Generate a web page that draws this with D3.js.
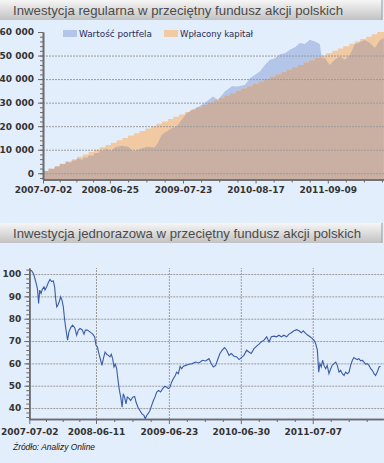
<!DOCTYPE html>
<html>
<head>
<meta charset="utf-8">
<script src="https://cdn.jsdelivr.net/npm/d3@7"></script>
<style>
body { margin: 0; background: #e3eefc; }
svg { display: block; }
</style>
</head>
<body>
<div class="canvas"></div>
<script>
var title1 = "Inwestycja regularna w przeciętny fundusz akcji polskich";
var title2 = "Inwestycja jednorazowa w przeciętny fundusz akcji polskich";
var sourceText = "Źródło: Analizy Online";
var legendLabels = ["Wartość portfela", "Wpłacony kapitał"];

var topTicks = ["2007-07-02", "2008-06-25", "2009-07-23", "2010-08-17", "2011-09-09"];
var bottomTicks = ["2007-07-02", "2008-06-11", "2009-06-23", "2010-06-30", "2011-07-07"];

// wplacony kapital - monthly deposits, cumulative
var paidMonths = [
  "2007-07-02","2007-08-01","2007-09-03","2007-10-01","2007-11-01","2007-12-03",
  "2008-01-02","2008-02-01","2008-03-03","2008-04-01","2008-05-02","2008-06-02",
  "2008-07-01","2008-08-01","2008-09-01","2008-10-01","2008-11-03","2008-12-01",
  "2009-01-02","2009-02-02","2009-03-02","2009-04-01","2009-05-04","2009-06-01",
  "2009-07-01","2009-08-03","2009-09-01","2009-10-01","2009-11-02","2009-12-01",
  "2010-01-04","2010-02-01","2010-03-01","2010-04-01","2010-05-04","2010-06-01",
  "2010-07-01","2010-08-02","2010-09-01","2010-10-01","2010-11-02","2010-12-01",
  "2011-01-03","2011-02-01","2011-03-01","2011-04-01","2011-05-02","2011-06-01",
  "2011-07-01","2011-08-01","2011-09-01","2011-10-03","2011-11-02","2011-12-01",
  "2012-01-02","2012-02-01","2012-03-01","2012-04-02","2012-05-02","2012-06-01"
];
var paidValues = [
  1000, 2000, 3000, 4000, 5000, 6000,
  7000, 8000, 9000, 10000, 11000, 12000,
  13000, 14000, 15000, 16000, 17000, 18000,
  19000, 20000, 21000, 22000, 23000, 24000,
  25000, 26000, 27000, 28000, 29000, 30000,
  31000, 32000, 33000, 34000, 35000, 36000,
  37000, 38000, 39000, 40000, 41000, 42000,
  43000, 44000, 45000, 46000, 47000, 48000,
  49000, 50000, 51000, 52000, 53000, 54000,
  55000, 56000, 57000, 58000, 59000, 60000
];

// wartosc portfela
var valueDates = [
  "2007-07-02","2007-07-31","2007-08-01","2007-08-31","2007-09-03","2007-09-28",
  "2007-10-01","2007-10-31","2007-11-01","2007-11-30","2007-12-03","2007-12-28",
  "2008-01-02","2008-01-31","2008-02-01","2008-02-29","2008-03-03","2008-03-31",
  "2008-04-01","2008-04-30","2008-05-02","2008-05-30","2008-06-02","2008-06-30",
  "2008-07-23","2008-08-28","2008-10-02","2008-10-29","2008-12-04","2009-01-09",
  "2009-02-22","2009-03-12","2009-03-30","2009-04-26","2009-05-23","2009-06-19",
  "2009-07-16","2009-08-12","2009-09-08","2009-10-11","2009-11-18","2009-12-31",
  "2010-01-27","2010-03-05","2010-04-12","2010-05-14","2010-06-21","2010-07-18",
  "2010-08-14","2010-09-09","2010-10-06","2010-11-02","2010-11-29","2010-12-26",
  "2011-01-22","2011-02-17","2011-03-16","2011-04-12","2011-05-09","2011-06-05",
  "2011-07-02","2011-07-28","2011-08-08","2011-08-24","2011-09-20","2011-10-17",
  "2011-11-13","2011-12-10","2012-01-06","2012-02-01","2012-02-28","2012-03-26",
  "2012-04-22","2012-05-19","2012-06-15","2012-07-06"
];
var valueValues = [
  1000, 970, 1960, 1850, 2850, 2900,
  3900, 3950, 4950, 4500, 5450, 5500,
  6500, 5600, 6600, 6700, 7700, 7400,
  8400, 8700, 9700, 9500, 10500, 9300,
  11000, 11700, 11300, 9200, 10300, 11300,
  11000, 13200, 16300, 17700, 19100, 19800,
  22700, 25500, 26900, 28000, 30000, 32600,
  31200, 34700, 37000, 36800, 37600, 40400,
  41800, 43200, 46000, 48200, 48900, 50600,
  51000, 52500, 53500, 55300, 54900, 56700,
  56000, 54900, 49000, 49000, 46000, 48200,
  49600, 48200, 50300, 54800, 55600, 56600,
  55300, 53200, 56500, 57400
];

// inwestycja jednorazowa - index
var indexDates = [
  "2007-07-02","2007-07-14","2007-07-23","2007-07-31","2007-08-09","2007-08-14","2007-08-19","2007-08-25",
  "2007-09-01","2007-09-07","2007-09-16","2007-09-21","2007-09-30","2007-10-08","2007-10-17","2007-10-26",
  "2007-11-03","2007-11-10","2007-11-15","2007-11-21","2007-11-27","2007-12-04","2007-12-11","2007-12-18",
  "2007-12-25","2008-01-01","2008-01-08","2008-01-16","2008-01-23","2008-02-01","2008-02-11","2008-02-22",
  "2008-03-03","2008-03-12","2008-03-20","2008-03-31","2008-04-10","2008-04-17","2008-04-27","2008-05-11",
  "2008-05-25","2008-06-04","2008-06-11","2008-06-18","2008-06-26","2008-07-05","2008-07-12","2008-07-19",
  "2008-07-28","2008-08-05","2008-08-14","2008-08-22","2008-08-29","2008-09-05","2008-09-12","2008-09-19",
  "2008-09-26","2008-10-03","2008-10-10","2008-10-17","2008-10-24","2008-10-30","2008-11-06","2008-11-13",
  "2008-11-20","2008-11-30","2008-12-07","2008-12-18","2008-12-28","2009-01-04","2009-01-14","2009-01-24",
  "2009-02-04","2009-02-14","2009-02-21","2009-02-28","2009-03-09","2009-03-17","2009-03-26","2009-04-04",
  "2009-04-12","2009-04-21","2009-05-01","2009-05-11","2009-05-22","2009-06-01","2009-06-11","2009-06-20",
  "2009-06-29","2009-07-07","2009-07-16","2009-07-26","2009-08-02","2009-08-11","2009-08-20","2009-08-28",
  "2009-09-06","2009-09-18","2009-10-05","2009-10-22","2009-11-08","2009-11-26","2009-12-13","2009-12-30",
  "2010-01-16","2010-01-28","2010-02-08","2010-02-20","2010-03-01","2010-03-14","2010-03-26","2010-04-07",
  "2010-04-18","2010-04-30","2010-05-12","2010-05-26","2010-06-09","2010-06-21","2010-07-03","2010-07-16",
  "2010-07-30","2010-08-11","2010-08-23","2010-09-06","2010-09-20","2010-10-02","2010-10-14","2010-10-28",
  "2010-11-11","2010-11-23","2010-12-05","2010-12-19","2011-01-01","2011-01-13","2011-01-26","2011-02-08",
  "2011-02-22","2011-03-06","2011-03-18","2011-04-01","2011-04-15","2011-04-27","2011-05-09","2011-05-19",
  "2011-05-31","2011-06-12","2011-06-23","2011-07-05","2011-07-13","2011-07-22","2011-07-31","2011-08-07",
  "2011-08-13","2011-08-20","2011-08-27","2011-09-03","2011-09-12","2011-09-20","2011-09-29","2011-10-08",
  "2011-10-16","2011-10-25","2011-11-03","2011-11-11","2011-11-20","2011-11-28","2011-12-07","2011-12-16",
  "2011-12-24","2012-01-02","2012-01-11","2012-01-19","2012-01-28","2012-02-05","2012-02-14","2012-02-23",
  "2012-03-02","2012-03-11","2012-03-19","2012-03-28","2012-04-06","2012-04-14","2012-04-23","2012-05-02",
  "2012-05-10","2012-05-19","2012-05-27","2012-06-05","2012-06-14","2012-06-22"
];
var indexValues = [
  101.8, 101.5, 100.3, 98.0, 95.0, 92.8, 86.8, 92.8,
  91.3, 93.1, 94.3, 92.8, 94.3, 96.1, 97.6, 96.6,
  97.0, 94.3, 89.1, 85.3, 86.1, 87.6, 89.8, 88.3,
  85.3, 79.3, 74.9, 70.4, 74.1, 76.0, 77.1, 76.0,
  72.6, 74.9, 75.6, 75.1, 73.1, 74.9, 74.9, 74.1,
  73.1, 71.9, 68.1, 67.4, 64.4, 61.4, 59.1, 62.1,
  65.1, 64.1, 63.6, 62.9, 64.1, 62.1, 58.4, 59.6,
  57.6, 52.4, 47.9, 44.9, 40.4, 46.4, 44.9, 41.9,
  44.9, 44.2, 43.4, 44.9, 45.2, 42.7, 40.4, 38.9,
  37.4, 36.7, 35.2, 36.7, 37.7, 38.9, 41.2, 43.4,
  44.9, 47.2, 47.9, 47.2, 48.7, 49.7, 49.4, 48.7,
  49.4, 51.6, 53.1, 54.6, 56.1, 55.4, 58.7, 57.6,
  58.7, 59.1, 59.6, 59.9, 60.6, 60.2, 61.4, 61.1,
  62.1, 59.9, 58.4, 59.1, 61.4, 64.4, 65.9, 67.1,
  65.9, 63.6, 64.4, 63.2, 62.9, 61.7, 62.6, 63.6,
  65.9, 65.1, 64.4, 66.6, 67.7, 68.6, 69.6, 70.4,
  71.9, 69.6, 71.9, 72.2, 71.9, 72.6, 71.9, 72.6,
  71.9, 73.1, 73.7, 74.6, 75.1, 74.6, 73.7, 74.6,
  73.4, 72.6, 71.9, 71.1, 70.4, 68.9, 65.9, 56.1,
  59.9, 58.4, 61.4, 59.1, 57.6, 59.1, 55.4, 57.6,
  59.1, 59.9, 60.6, 59.1, 56.1, 56.9, 55.4, 54.6,
  56.1, 55.4, 56.1, 59.1, 61.4, 62.6, 62.1, 61.7,
  62.1, 61.1, 61.4, 60.6, 59.6, 59.9, 59.1, 57.6,
  56.9, 55.4, 54.6, 56.1, 58.4, 58.7
];

var W = 384, H = 463;
var parseDay = d3.timeParse("%Y-%m-%d");
var fmtDay = d3.timeFormat("%Y-%m-%d");
var plLocale = d3.formatLocale({decimal: ",", thousands: " ", grouping: [3], currency: ["", " zł"]});
var fmtMoney = plLocale.format(",d");

var svg = d3.select(".canvas").append("svg")
    .attr("width", W)
    .attr("height", H);
svg.append("rect").attr("width", W).attr("height", H).attr("fill", "#e3eefc");

var defs = svg.append("defs");
var grad = defs.append("linearGradient").attr("id", "hdr")
    .attr("x1", 0).attr("y1", 0).attr("x2", 0).attr("y2", 1);
grad.append("stop").attr("offset", "0%").attr("stop-color", "#f6f6f6");
grad.append("stop").attr("offset", "100%").attr("stop-color", "#c2c2c2");

function header(y, text, len) {
    svg.append("rect")
       .attr("x", 0).attr("y", y)
       .attr("width", 382).attr("height", 20)
       .attr("fill", "url(#hdr)");
    svg.append("line")
       .attr("x1", 382).attr("x2", 382).attr("y1", y).attr("y2", y + 20)
       .attr("stroke", "#9a9a9a");
    svg.append("text")
       .attr("x", 13).attr("y", y + 15)
       .attr("textLength", len)
       .attr("lengthAdjust", "spacingAndGlyphs")
       .style("font-family", "Liberation Sans, Arial, sans-serif")
       .style("font-size", "13.5px")
       .style("fill", "#4b4b4b")
       .text(text);
}

function styleAxis(g) {
    g.selectAll("text")
     .style("font-family", "DejaVu Sans, Verdana, sans-serif")
     .style("font-size", "9px")
     .style("font-weight", "bold")
     .style("fill", "#333");
    g.selectAll("line").attr("stroke", "#6b6b6b");
    g.select(".domain").attr("stroke", "#6b6b6b").attr("stroke-width", 1.6);
}

function minorDates(ticks, end) {
    var out = [];
    for (var i = 0; i < ticks.length; i++) {
        var a = ticks[i], b = ticks[i + 1];
        var step = b ? (b - a) / 4 : (ticks[i] - ticks[i - 1]) / 4;
        for (var k = 1; k < 4 || !b; k++) {
            var t = new Date(+a + step * k);
            if (!b && t > end) break;
            out.push(t);
        }
    }
    return out;
}

function gridLines(g, axis) {
    g.call(axis);
    g.select(".domain").remove();
    g.selectAll("line")
     .attr("stroke", "#9b9b9b")
     .attr("stroke-dasharray", "2,1");
}

// ---------- top chart ----------
header(0, title1, 330);

var topStart = parseDay("2007-07-02"), topEnd = parseDay("2012-07-07");
var xTop = d3.scaleTime().domain([topStart, topEnd]).range([43, 384]);
var yTop = d3.scaleLinear().domain([-2650, 60000]).range([179.5, 32]);
var topBase = yTop.range()[0];

var paid = paidMonths.map(function (d, i) { return {date: parseDay(d), v: paidValues[i]}; });
paid.push({date: topEnd, v: paidValues[paidValues.length - 1]});
var value = valueDates.map(function (d, i) { return {date: parseDay(d), v: valueValues[i]}; });

defs.append("clipPath").attr("id", "topPlot")
    .append("rect").attr("x", 43).attr("y", 0).attr("width", 341).attr("height", topBase);

var paidArea = d3.area()
    .curve(d3.curveStepAfter)
    .x(function (d) { return xTop(d.date); })
    .y0(topBase)
    .y1(function (d) { return yTop(d.v); });
var valueArea = d3.area()
    .x(function (d) { return xTop(d.date); })
    .y0(topBase)
    .y1(function (d) { return yTop(d.v); });

defs.append("clipPath").attr("id", "paidClip")
    .append("path").attr("d", paidArea(paid));

var plot = svg.append("g").attr("clip-path", "url(#topPlot)");
plot.append("path").attr("d", valueArea(value)).attr("fill", "#b3c5e8");
plot.append("path").attr("d", paidArea(paid)).attr("fill", "#f1c9a3");
plot.append("g").attr("clip-path", "url(#paidClip)")
    .append("path").attr("d", valueArea(value)).attr("fill", "#c9b0a3");

gridLines(svg.append("g").attr("transform", "translate(43,0)"),
    d3.axisLeft(yTop).tickValues(d3.range(0, 50001, 10000)).tickSize(-341).tickFormat(""));

var yMinor = svg.append("g").attr("transform", "translate(43,0)")
    .call(d3.axisLeft(yTop).tickValues(d3.range(-2000, 60001, 2000)).tickSize(3).tickFormat("").tickSizeOuter(0));
styleAxis(yMinor);
var yAxisTop = svg.append("g").attr("transform", "translate(43,0)")
    .call(d3.axisLeft(yTop).tickValues(d3.range(0, 60001, 10000)).tickSize(5).tickPadding(4)
          .tickFormat(fmtMoney).tickSizeOuter(0));
styleAxis(yAxisTop);

var topTickDates = topTicks.map(parseDay);
var xMinorTop = svg.append("g").attr("transform", "translate(0," + topBase + ")")
    .call(d3.axisBottom(xTop).tickValues(minorDates(topTickDates, topEnd)).tickSize(3).tickFormat("").tickSizeOuter(0));
styleAxis(xMinorTop);
var xAxisTop = svg.append("g").attr("transform", "translate(0," + topBase + ")")
    .call(d3.axisBottom(xTop).tickValues(topTickDates).tickSize(4).tickPadding(3)
          .tickFormat(fmtDay).tickSizeOuter(0));
styleAxis(xAxisTop);

// legend
var legendColors = ["#b3c5e8", "#f1c9a3"];
var legendX = [63, 164];
legendLabels.forEach(function (label, i) {
    svg.append("rect")
       .attr("x", legendX[i]).attr("y", 30)
       .attr("width", 14).attr("height", 7)
       .attr("fill", legendColors[i]);
    svg.append("text")
       .attr("x", legendX[i] + 16).attr("y", 37)
       .attr("textLength", 73)
       .attr("lengthAdjust", "spacingAndGlyphs")
       .style("font-family", "DejaVu Sans, Verdana, sans-serif")
       .style("font-size", "9px")
       .style("fill", "#1f2a55")
       .text(label);
});

// ---------- bottom chart ----------
header(223, title2, 348);

var botStart = parseDay("2007-07-02"), botEnd = parseDay("2012-07-06");
var xBot = d3.scaleTime().domain([botStart, botEnd]).range([29.3, 383.3]);
var yBot = d3.scaleLinear().domain([35.1, 102.7]).range([419, 268]);

var botTickDates = bottomTicks.map(parseDay);
gridLines(svg.append("g").attr("transform", "translate(29.3,0)"),
    d3.axisLeft(yBot).tickValues(d3.range(40, 101, 10)).tickSize(-355).tickFormat(""));
gridLines(svg.append("g").attr("transform", "translate(0,419)"),
    d3.axisBottom(xBot).tickValues(botTickDates.slice(1)).tickSize(-151).tickFormat(""));

var index = indexDates.map(function (d, i) { return {date: parseDay(d), v: indexValues[i]}; });
svg.append("path")
   .attr("d", d3.line()
       .x(function (d) { return xBot(d.date); })
       .y(function (d) { return yBot(d.v); })(index))
   .attr("fill", "none")
   .attr("stroke", "#3a5ca6")
   .attr("stroke-width", 1.1);

var yMinorBot = svg.append("g").attr("transform", "translate(29.3,0)")
    .call(d3.axisLeft(yBot).tickValues(d3.range(36, 103, 2)).tickSize(3).tickFormat("").tickSizeOuter(0));
styleAxis(yMinorBot);
var yAxisBot = svg.append("g").attr("transform", "translate(29.3,0)")
    .call(d3.axisLeft(yBot).tickValues(d3.range(40, 101, 10)).tickSize(5).tickPadding(3).tickSizeOuter(0));
styleAxis(yAxisBot);

var xMinorBot = svg.append("g").attr("transform", "translate(0,419)")
    .call(d3.axisBottom(xBot).tickValues(minorDates(botTickDates, botEnd)).tickSize(3).tickFormat("").tickSizeOuter(0));
styleAxis(xMinorBot);
var xAxisBot = svg.append("g").attr("transform", "translate(0,419)")
    .call(d3.axisBottom(xBot).tickValues(botTickDates).tickSize(5).tickPadding(5)
          .tickFormat(fmtDay).tickSizeOuter(0));
styleAxis(xAxisBot);

svg.append("text")
   .attr("x", 13).attr("y", 450)
   .attr("textLength", 82)
   .attr("lengthAdjust", "spacingAndGlyphs")
   .style("font-family", "Liberation Sans, Arial, sans-serif")
   .style("font-size", "8.5px")
   .style("font-style", "italic")
   .style("fill", "#111")
   .text(sourceText);
</script>
</body>
</html>
